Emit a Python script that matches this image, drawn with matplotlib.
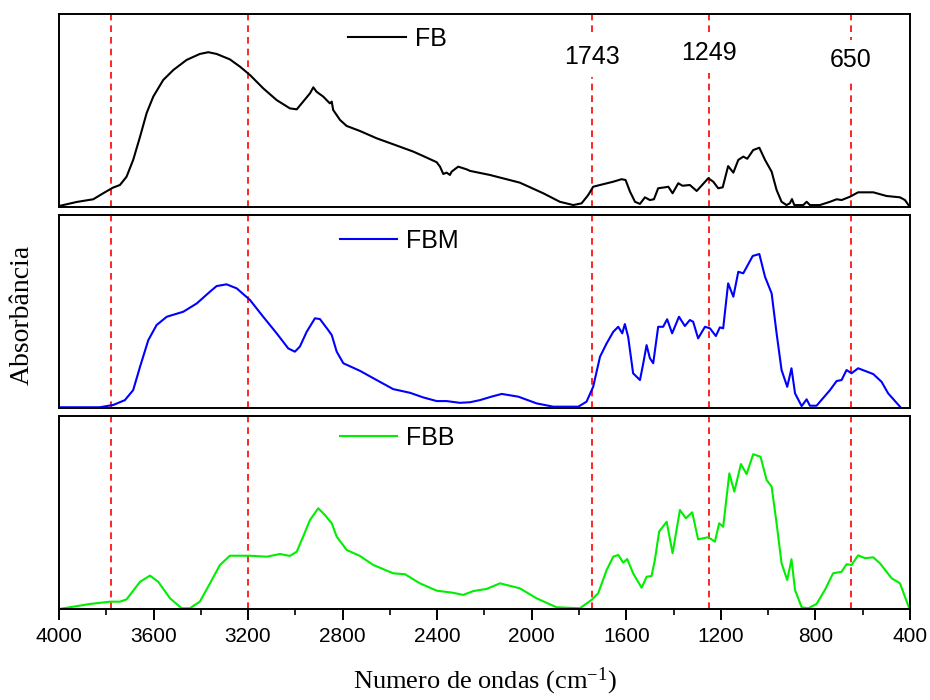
# FTIR spectra of FB, FBM and FBB stacked in three panels
import matplotlib
matplotlib.use("Agg")
import matplotlib.pyplot as plt
from matplotlib.ticker import MultipleLocator

plt.rcParams['font.family'] = ['Liberation Sans', 'DejaVu Sans']
plt.rcParams['mathtext.fontset'] = 'custom'
plt.rcParams['mathtext.rm'] = 'Liberation Serif'
plt.rcParams['mathtext.it'] = 'Liberation Serif:italic'

# wavenumbers (cm-1) and absorbance (arbitrary, normalised per panel)
fb_x = [4000, 3925, 3855, 3813, 3772, 3742, 3714, 3686, 3657, 3629, 3601, 3559, 3516, 3460,
        3404, 3368, 3333, 3277, 3234, 3192, 3136, 3079, 3023, 2994, 2967, 2938, 2924, 2910,
        2882, 2854, 2846, 2840, 2811, 2783, 2727, 2656, 2586, 2501, 2459, 2402, 2388, 2374,
        2360, 2346, 2339, 2311, 2275, 2261, 2177, 2050, 1951, 1881, 1824, 1789, 1761, 1740,
        1711, 1655, 1620, 1603, 1584, 1563, 1542, 1521, 1500, 1483, 1465, 1436, 1422, 1404,
        1380, 1362, 1331, 1302, 1253, 1232, 1211, 1192, 1169, 1147, 1126, 1105, 1088, 1063,
        1037, 1013, 985, 964, 943, 922, 908, 899, 889, 851, 837, 823, 781, 738, 710, 689,
        654, 619, 555, 499, 442, 421, 403]
fb_y = [0.005, 0.026, 0.040, 0.071, 0.100, 0.114, 0.157, 0.244, 0.364, 0.487, 0.572, 0.658,
        0.710, 0.762, 0.793, 0.802, 0.793, 0.765, 0.727, 0.684, 0.615, 0.554, 0.511, 0.506,
        0.546, 0.589, 0.620, 0.597, 0.572, 0.537, 0.546, 0.503, 0.451, 0.420, 0.394, 0.356,
        0.325, 0.287, 0.264, 0.232, 0.209, 0.171, 0.178, 0.166, 0.183, 0.209, 0.195, 0.187,
        0.166, 0.126, 0.071, 0.027, 0.010, 0.019, 0.062, 0.105, 0.114, 0.131, 0.144, 0.140,
        0.079, 0.027, 0.016, 0.050, 0.036, 0.040, 0.097, 0.102, 0.105, 0.071, 0.123, 0.110,
        0.114, 0.083, 0.149, 0.131, 0.097, 0.102, 0.212, 0.178, 0.244, 0.261, 0.250, 0.295,
        0.307, 0.244, 0.183, 0.088, 0.027, 0.010, 0.019, 0.041, 0.010, 0.010, 0.027, 0.010,
        0.010, 0.027, 0.040, 0.036, 0.053, 0.076, 0.076, 0.057, 0.050, 0.036, 0.005]

fbm_x = [4000, 3827, 3770, 3721, 3686, 3657, 3622, 3587, 3544, 3474, 3417, 3361, 3333, 3291,
         3248, 3192, 3136, 3079, 3030, 3002, 2981, 2952, 2917, 2896, 2861, 2846, 2825, 2797,
         2727, 2656, 2586, 2515, 2459, 2402, 2360, 2304, 2261, 2219, 2170, 2127, 2057, 1979,
         1909, 1803, 1768, 1740, 1711, 1683, 1655, 1634, 1617, 1606, 1592, 1571, 1542, 1528,
         1514, 1500, 1486, 1465, 1444, 1427, 1406, 1377, 1352, 1331, 1317, 1296, 1267, 1246,
         1221, 1204, 1190, 1169, 1147, 1126, 1105, 1065, 1037, 1013, 985, 964, 943, 919, 901,
         886, 858, 837, 823, 795, 738, 710, 689, 668, 647, 619, 555, 520, 492, 442]
fbm_y = [0.004, 0.004, 0.016, 0.041, 0.093, 0.214, 0.352, 0.430, 0.473, 0.499, 0.542, 0.603,
         0.632, 0.641, 0.620, 0.560, 0.473, 0.387, 0.309, 0.292, 0.318, 0.395, 0.465, 0.461,
         0.404, 0.378, 0.292, 0.232, 0.193, 0.145, 0.098, 0.079, 0.055, 0.036, 0.036, 0.027,
         0.030, 0.041, 0.059, 0.073, 0.059, 0.024, 0.007, 0.007, 0.033, 0.110, 0.266, 0.335,
         0.395, 0.421, 0.387, 0.435, 0.369, 0.180, 0.145, 0.232, 0.326, 0.258, 0.232, 0.421,
         0.421, 0.460, 0.387, 0.473, 0.425, 0.456, 0.447, 0.361, 0.421, 0.413, 0.373, 0.418,
         0.413, 0.646, 0.577, 0.706, 0.698, 0.788, 0.798, 0.680, 0.594, 0.387, 0.197, 0.110,
         0.206, 0.076, 0.010, 0.045, 0.012, 0.012, 0.093, 0.140, 0.145, 0.197, 0.180, 0.206,
         0.176, 0.136, 0.076, 0.007]

fbb_x = [4000, 3869, 3784, 3742, 3714, 3657, 3615, 3580, 3530, 3481, 3446, 3404, 3361, 3319,
         3277, 3192, 3121, 3065, 3023, 2994, 2967, 2938, 2903, 2875, 2846, 2825, 2783, 2727,
         2670, 2586, 2536, 2473, 2402, 2332, 2290, 2247, 2191, 2134, 2050, 1979, 1895, 1796,
         1747, 1719, 1683, 1655, 1634, 1613, 1596, 1571, 1535, 1514, 1493, 1479, 1461, 1429,
         1404, 1373, 1348, 1321, 1296, 1253, 1225, 1207, 1190, 1164, 1143, 1115, 1091, 1063,
         1032, 1006, 985, 964, 943, 919, 901, 886, 858, 830, 795, 760, 725, 689, 668, 647,
         619, 590, 555, 527, 477, 442, 403]
fbb_y = [0.000, 0.026, 0.038, 0.038, 0.050, 0.141, 0.173, 0.141, 0.055, 0.004, 0.004, 0.038,
         0.133, 0.228, 0.276, 0.276, 0.271, 0.285, 0.275, 0.297, 0.375, 0.461, 0.522, 0.487,
         0.444, 0.375, 0.306, 0.275, 0.228, 0.185, 0.180, 0.133, 0.095, 0.084, 0.073, 0.093,
         0.104, 0.133, 0.107, 0.055, 0.009, 0.004, 0.047, 0.081, 0.202, 0.271, 0.280, 0.240,
         0.259, 0.185, 0.110, 0.167, 0.171, 0.254, 0.401, 0.452, 0.289, 0.513, 0.470, 0.501,
         0.361, 0.372, 0.349, 0.444, 0.426, 0.703, 0.608, 0.751, 0.699, 0.802, 0.789, 0.668,
         0.634, 0.444, 0.237, 0.150, 0.258, 0.098, 0.009, 0.004, 0.026, 0.098, 0.185, 0.193,
         0.232, 0.228, 0.278, 0.263, 0.268, 0.237, 0.159, 0.133, 0.004]

series = [(fb_x, fb_y, 'black', 'FB'),
          (fbm_x, fbm_y, 'blue', 'FBM'),
          (fbb_x, fbb_y, '#00ee00', 'FBB')]

marks = [3780, 3200, 1743, 1249, 650]
mark_labels = {1743: 0.777, 1249: 0.798, 650: 0.762}

fig = plt.figure(figsize=(9.3, 7), dpi=100)
left, width, height = 0.0634, 0.915, 0.2757
bottoms = [0.7043, 0.4171, 0.13]
legend_pos = [(0.34, 0.935), (0.33, 0.93), (0.33, 0.95)]

axes = []
for i, (xs, ys, col, name) in enumerate(series):
    ax = fig.add_axes([left, bottoms[i], width, height])
    ax.plot(xs, ys, color=col, lw=1.5, label=name, solid_joinstyle='round')
    ax.set_xlim(4000, 400)
    ax.set_ylim(0, 1)
    ax.set_yticks([])
    for sp in ax.spines.values():
        sp.set_linewidth(1.4)
    for m in marks:
        ax.axvline(m, color='red', lw=1.2, ls=(0, (4, 3)), zorder=1)
    ax.legend(loc='upper left', bbox_to_anchor=legend_pos[i], frameon=False,
              fontsize=18, handlelength=2.3, handletextpad=0.35,
              borderpad=0, borderaxespad=0)
    axes.append(ax)

for ax in axes[:2]:
    ax.tick_params(axis='x', which='both', bottom=False, labelbottom=False)

top = axes[0]
for m, yy in mark_labels.items():
    top.text(m, yy, str(m), ha='center', va='center', fontsize=18, zorder=3,
             bbox=dict(facecolor='white', edgecolor='none', pad=6))

bot = axes[2]
bot.xaxis.set_major_locator(MultipleLocator(400))
bot.xaxis.set_minor_locator(MultipleLocator(200))
bot.tick_params(axis='x', which='major', direction='out', length=8, width=1.4,
                labelsize=15, pad=5)
bot.tick_params(axis='x', which='minor', direction='out', length=4, width=1.2)
bot.set_xlabel('Numero de ondas (cm$^{-1}$)', family=['Liberation Serif'],
               fontsize=19, labelpad=14)

fig.text(0.024, 0.55, 'Absorbância', rotation=90, ha='center', va='center',
         family=['Liberation Serif'], fontsize=20)

fig.savefig('out.png', dpi=100)
